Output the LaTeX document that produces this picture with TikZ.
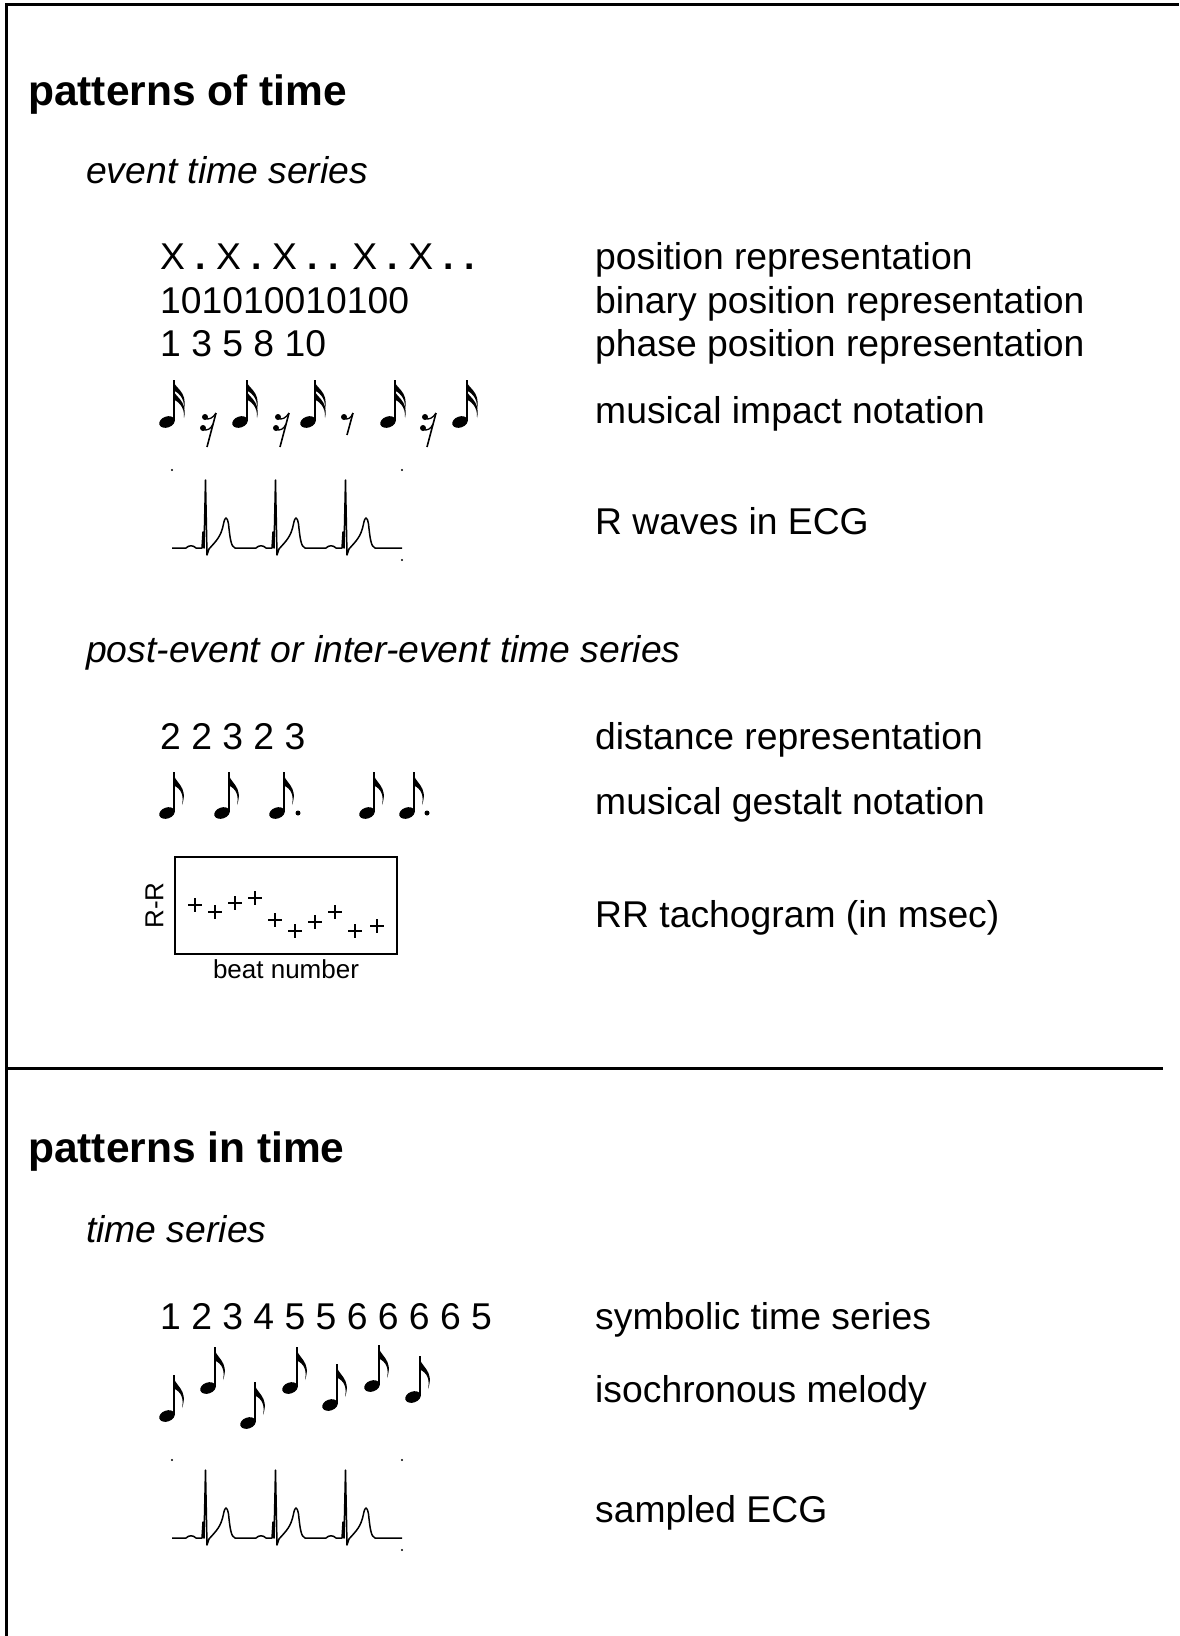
\documentclass[tikz,border=0pt]{standalone}
\usepackage{fontspec}
\setmainfont{Liberation Sans}
\usetikzlibrary{positioning}

\begin{document}
\begin{tikzpicture}[x=1pt,y=-1pt,
    heading/.style={anchor=base west,inner sep=0pt,font=\fontsize{42.5}{50}\selectfont\bfseries},
    kind/.style={anchor=base west,inner sep=0pt,font=\fontsize{37.3}{44}\selectfont\itshape},
    item/.style={anchor=base west,inner sep=0pt,font=\fontsize{37.3}{44}\selectfont},
    axis label/.style={inner sep=0pt,font=\fontsize{26}{30}\selectfont},
    rule/.style={line width=3pt},
    eighth/.pic={
      \fill[rotate=20] (0,0) ellipse [x radius=8,y radius=5.5];
      \draw[line width=1.5pt] (6.8,-1) -- (6.8,-41);
      \fill (6,-41) .. controls (7,-30) and (22,-27) .. (15,-8) .. controls (18,-22) and (10,-26) .. (6,-28) -- cycle;
    },
    sixteenth/.pic={
      \fill[rotate=20] (0,0) ellipse [x radius=8,y radius=5.5];
      \draw[line width=1.5pt] (6.8,-1) -- (6.8,-42);
      \fill (6,-42) .. controls (7,-34) and (21,-31) .. (17,-13) .. controls (18,-25) and (10,-30) .. (6,-32) -- cycle;
      \fill (6,-33) .. controls (7,-25) and (21,-22) .. (17,-4) .. controls (18,-16) and (10,-21) .. (6,-23) -- cycle;
    },
    srest/.pic={
      \fill (0,0) circle [radius=3];
      \fill (-2,11) circle [radius=3];
      \draw[line width=1.3pt] (0,1.5) .. controls (4,3) and (8,1) .. (11,-4);
      \draw[line width=1.3pt] (-2,12.5) .. controls (2,14) and (6,12) .. (8,7);
      \draw[line width=1.6pt] (11,-4) -- (2,30);
    },
    erest/.pic={
      \fill (0,0) circle [radius=3];
      \draw[line width=1.3pt] (0,1.5) .. controls (4,3) and (7,1) .. (9,-4);
      \draw[line width=1.6pt] (9,-4) -- (3,18);
    },
    ecg/.pic={
      \fill (0,-78) circle [radius=1.2];
      \fill (230,-78) circle [radius=1.2];
      \fill (230,12) circle [radius=1.2];
      \draw[line width=1.5pt,line join=round] (0,0)
        foreach \r in {34,104,174} {
          -- (\r-20,0) .. controls (\r-17,-3) and (\r-13,-3) .. (\r-10,0)
          -- (\r-4,0) -- (\r-3,-16) -- (\r-2,0) -- (\r-0.5,-68) -- (\r+1,7) -- (\r+3,1)
          .. controls (\r+10,-7) and (\r+15,-11) .. (\r+17.5,-24)
          .. controls (\r+19,-32) and (\r+21,-32) .. (\r+22.5,-24)
          .. controls (\r+24,-10) and (\r+25,-1) .. (\r+29,0)
        } -- (230,0);
    }]
  \useasboundingbox (0,0) rectangle (1179,1636);
  % frame and divider
  \draw[rule] (6.5,1636) -- (6.5,4) -- (1179,4);
  \draw[rule] (6.5,1068) -- (1163,1068);

  % patterns of time
  \node[heading] (oftime) at (28,105) {patterns of time};
  \node[kind] (events) at (86,183) {event time series};
  \node[item] (xdots) at (160,269) {X \textbf{.} X \textbf{.} X \textbf{.} \textbf{.} X \textbf{.} X \textbf{.} \textbf{.}};
  \node[item] (binary) at (160,313) {101010010100};
  \node[item] (phase) at (160,356) {1 3 5 8 10};
  \node[item] (posrep) at (595,269) {position representation};
  \node[item] (binrep) at (595,313) {binary position representation};
  \node[item] (phaserep) at (595,356) {phase position representation};

  \foreach \nx in {167,240,308,388,460}
    \pic at (\nx,422) {sixteenth};
  \foreach \rx in {205,278,425}
    \pic at (\rx,417) {srest};
  \pic at (344,417) {erest};
  \node[item] (impact) at (595,423) {musical impact notation};

  \pic at (172,548) {ecg};
  \node[item] (rwaves) at (595,534) {R waves in ECG};

  \node[kind] (interevents) at (86,662) {post-event or inter-event time series};
  \node[item] (dist) at (160,749) {2 2 3 2 3};
  \node[item] (distrep) at (595,749) {distance representation};

  \foreach \nx in {167,222,277,367,407}
    \pic at (\nx,813) {eighth};
  \fill (298,813) circle [radius=2.5] (427,813) circle [radius=2.5];
  \node[item] (gestalt) at (595,814) {musical gestalt notation};

  \node[draw,line width=1.3pt,minimum width=222pt,minimum height=97pt,inner sep=0pt] (tacho) at (286,905.5) {};
  \node[axis label,rotate=90] (rr) at ([xshift=-20pt]tacho.west) {R-R};
  \node[axis label,below=5pt of tacho] (beats) {beat number};
  \foreach \px/\py in {195/905,215/912,235/903,255/898,275/920,295/931,315/922,335/912,355/931,377/926}
    \draw[line width=1.2pt] (\px-7,\py) -- (\px+7,\py) (\px,\py-7) -- (\px,\py+7);
  \node[item] (tachorep) at (595,927) {RR tachogram (in msec)};

  % patterns in time
  \node[heading] (intime) at (28,1162) {patterns in time};
  \node[kind] (series) at (86,1242) {time series};
  \node[item] (symbols) at (160,1329) {1 2 3 4 5 5 6 6 6 6 5};
  \node[item] (symrep) at (595,1329) {symbolic time series};

  \foreach \nx/\ny in {167/1416,208/1388,248/1423,290/1388,330/1405,372/1386,413/1397}
    \pic at (\nx,\ny) {eighth};
  \node[item] (melody) at (595,1402) {isochronous melody};

  \pic at (172,1538) {ecg};
  \node[item] (sampled) at (595,1522) {sampled ECG};
\end{tikzpicture}
\end{document}
